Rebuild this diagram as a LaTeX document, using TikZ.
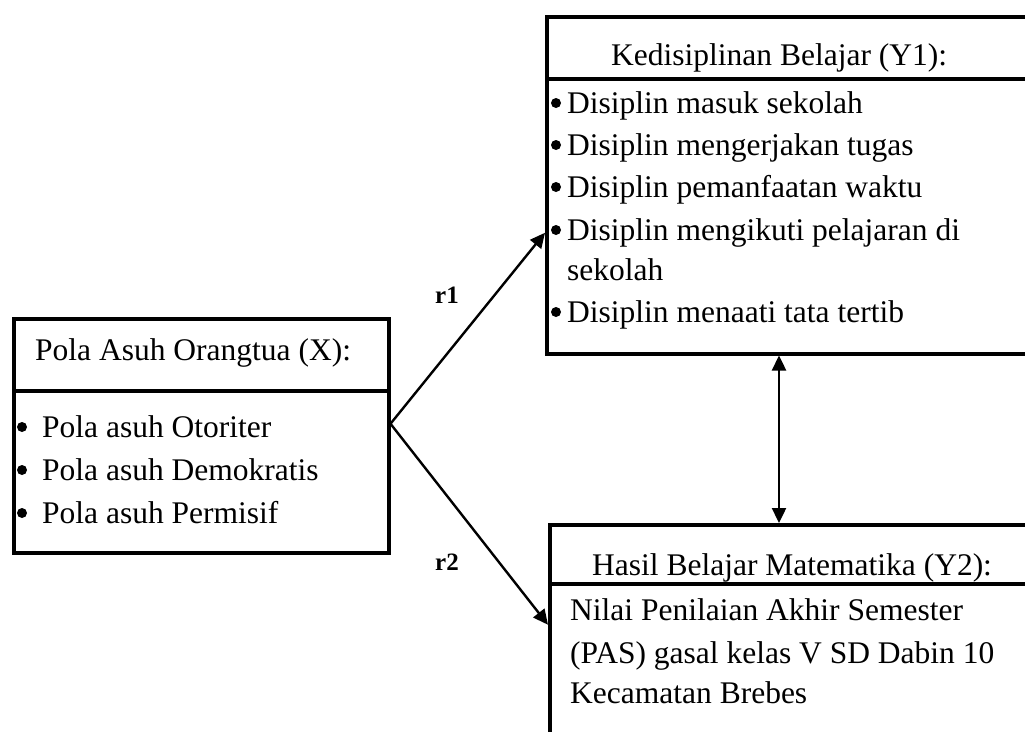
\documentclass[tikz,border=0pt]{standalone}
\usepackage{fontspec}
\setmainfont{Liberation Serif}
\usetikzlibrary{arrows.meta,positioning}
\tikzstyle{box} = [draw,line width=3.5pt,rectangle,inner sep=0pt,anchor=north west]
\tikzstyle{txt} = [anchor=base west,inner sep=0pt,font=\fontsize{31.5}{46}\selectfont]
\tikzstyle{dot} = [circle,fill,inner sep=0pt,minimum size=10pt]
\tikzstyle{lbl} = [anchor=base,inner sep=0pt,font=\fontsize{25}{25}\selectfont\bfseries]
\tikzstyle{arrow} = [-{Triangle[length=15pt,width=14pt]},line width=2.4pt]
\tikzstyle{dblarrow} = [{Triangle[length=15pt,width=14pt]}-{Triangle[length=15pt,width=14pt]},line width=2.4pt]

\begin{document}
\begin{tikzpicture}[x=1pt,y=-1pt]
      \useasboundingbox (0,0) rectangle (1025,731);
      \clip (0,0) rectangle (1025,731);
      % Pola asuh orangtua (X)
      \node[box,minimum width=375pt,minimum height=72pt](polahead) at (12,317){};
      \node[box,minimum width=375pt,minimum height=162pt](polabody) at (12,389){};
      \node[txt] at (35,360){Pola Asuh Orangtua (X):};
      \foreach \y/\t in {437/Pola asuh Otoriter,480/Pola asuh Demokratis,523/Pola asuh Permisif}{
        \node[dot] at (22,\y-10){};
        \node[txt] at (42,\y){\t};
      }
      % Kedisiplinan belajar (Y1)
      \node[box,minimum width=495pt,minimum height=62pt](disiplinhead) at (545,15){};
      \node[box,minimum width=495pt,minimum height=275pt](disiplinbody) at (545,77){};
      \node[txt] at (611,65){Kedisiplinan Belajar (Y1):};
      \foreach \y/\t in {113/Disiplin masuk sekolah,155/Disiplin mengerjakan tugas,197/Disiplin pemanfaatan waktu,240/Disiplin mengikuti pelajaran di,322/Disiplin menaati tata tertib}{
        \node[dot] at (556,\y-10){};
        \node[txt] at (567,\y){\t};
      }
      \node[txt] at (567,280){sekolah};
      % Hasil belajar matematika (Y2)
      \node[box,minimum width=492pt,minimum height=59pt](hasilhead) at (548,523){};
      \node[box,minimum width=492pt,minimum height=178pt](hasilbody) at (548,582){};
      \node[txt] at (592,575){Hasil Belajar Matematika (Y2):};
      \node[txt] at (570,620){Nilai Penilaian Akhir Semester};
      \node[txt] at (570,663){(PAS) gasal kelas V SD Dabin 10};
      \node[txt] at (570,703){Kecamatan Brebes};
      % hubungan
      \coordinate (fork) at ([yshift=48pt]polabody.east);
      \draw[arrow](fork)--([yshift=-16.5pt]disiplinbody.west);
      \draw[arrow](fork)--([yshift=48pt]hasilbody.west);
      \draw[dblarrow]([xshift=234pt]disiplinbody.south west)--([xshift=231pt]hasilhead.north west);
      \node[lbl](r1) at (447,303){r1};
      \node[lbl](r2) at (447,570){r2};
    \end{tikzpicture}
\end{document}
